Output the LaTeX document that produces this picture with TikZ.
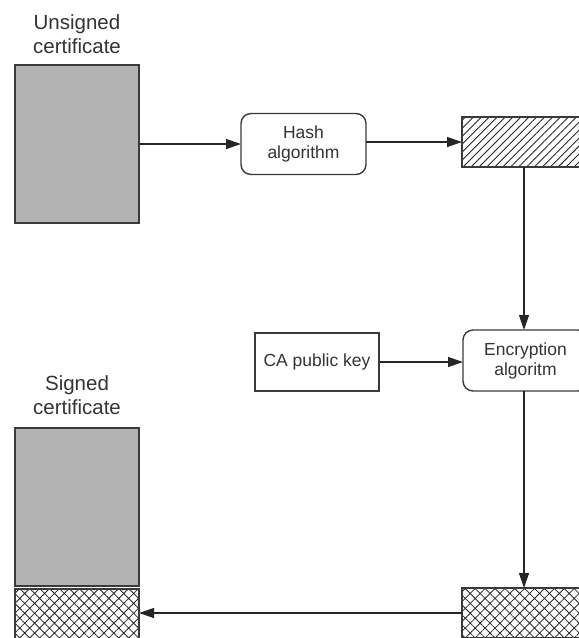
\documentclass[tikz,border=0pt]{standalone}
\usepackage{fontspec}
\setmainfont{Liberation Sans}
\usetikzlibrary{arrows.meta,patterns.meta}
\definecolor{docgray}{HTML}{B3B3B3}
\definecolor{edgegray}{HTML}{3A3A3A}
\definecolor{txtgray}{HTML}{333333}
\begin{document}
\begin{tikzpicture}[x=1pt,y=-1pt,
  every node/.style={inner sep=0pt,outer sep=0pt},
  doc/.style={draw=edgegray,line width=1.4pt,fill=docgray,minimum width=124pt,minimum height=158pt},
  process/.style={draw=edgegray,line width=1.4pt,rounded corners=10pt,minimum width=125pt,
    minimum height=61pt,align=center,text=txtgray,font=\fontsize{17.5}{20}\selectfont},
  keybox/.style={draw=edgegray,line width=1.4pt,minimum width=124pt,minimum height=58pt,
    text=txtgray,font=\fontsize{17.5}{20}\selectfont},
  digest/.style={draw=edgegray,line width=1.4pt,minimum width=124pt,minimum height=50pt,
    pattern={Lines[angle=45,distance=5.6pt,line width=0.9pt]},pattern color=black!85},
  signature/.style={draw=edgegray,line width=1.4pt,minimum width=124pt,minimum height=50pt,
    pattern={Hatch[angle=45,distance=7pt,line width=0.8pt]},pattern color=black!85},
  caption/.style={align=center,text=txtgray,font=\fontsize{20.5}{23.5}\selectfont},
  flow/.style={draw=black!85,line width=1.3pt,-{Triangle[length=15pt,width=10pt]}}]
\useasboundingbox (0,0) rectangle (579,638);
\clip (0,0) rectangle (579,638);

% unsigned certificate and its digest
\node[caption] (ulabel) at (77,34) {Unsigned\\certificate};
\node[doc] (uc) at (77,144) {};
\node[process] (hash) at (303.5,144) {Hash\\algorithm};
\node[digest] (dg) at (524,142) {};

% encryption step
\node[process] (enc) at (525.5,360.5) {Encryption\\algoritm};
\node[keybox] (ca) at (317,362) {CA public key};
\node[signature] (sig) at (524,613) {};

% signed certificate
\node[caption] (slabel) at (77,395) {Signed\\certificate};
\node[doc] (sc) at (77,507) {};
\node[signature] (scx) at (77,614) {};

% connectors
\draw[flow] (uc.east) -- (hash.west);
\draw[flow] (hash.east |- dg.west) -- (dg.west);
\draw[flow] (dg.south) -- (dg.south |- enc.north);
\draw[flow] (ca.east) -- (ca.east -| enc.west);
\draw[flow] (enc.south -| dg.south) -- (dg.south |- sig.north);
\draw[flow] (sig.west) -- (sig.west -| scx.east);
\end{tikzpicture}
\end{document}
